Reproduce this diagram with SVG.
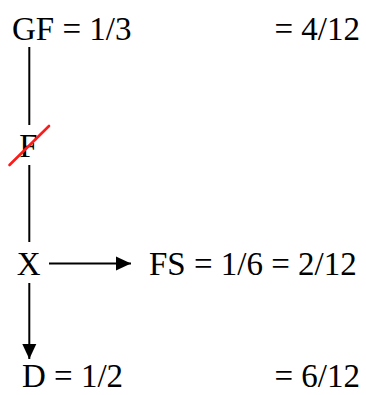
<svg xmlns="http://www.w3.org/2000/svg" width="366" height="395" viewBox="0 0 366 395">
<style>
.t{font-family:"Liberation Serif","Times New Roman",serif;font-size:33px;fill:#000}
.c{stroke:#000;stroke-width:2;fill:none}
.x{stroke:#ff1a1a;stroke-width:2.6;stroke-linecap:round}
</style>
<defs>
<marker id="ah" markerUnits="userSpaceOnUse" markerWidth="16" markerHeight="16" viewBox="0 0 16 14" refX="15" refY="7" orient="auto">
<path d="M0,0 L15,7 L0,14 Z" fill="#000"/>
</marker>
</defs>
<rect width="366" height="395" fill="#fff"/>
<g id="connectors">
<line class="c" x1="29.3" y1="47" x2="29.3" y2="125"/>
<line class="c" x1="29.3" y1="165" x2="29.3" y2="242"/>
<line class="c" x1="29.3" y1="283" x2="29.3" y2="359" marker-end="url(#ah)"/>
<line class="c" x1="49" y1="263.5" x2="131" y2="263.5" marker-end="url(#ah)"/>
</g>
<g id="node-GF">
<text class="t" x="12" y="40">GF = 1/3</text>
<text class="t" x="360" y="40" text-anchor="end">= 4/12</text>
</g>
<g id="node-F">
<text class="t" x="28.5" y="156.7" text-anchor="middle">F</text>
<line class="x" x1="9.5" y1="165" x2="49" y2="126"/>
</g>
<g id="node-X">
<text class="t" x="28.7" y="275" text-anchor="middle">X</text>
</g>
<g id="node-FS">
<text class="t" x="149" y="275">FS = 1/6 = 2/12</text>
</g>
<g id="node-D">
<text class="t" x="22" y="387">D = 1/2</text>
<text class="t" x="360" y="387" text-anchor="end">= 6/12</text>
</g>
</svg>
